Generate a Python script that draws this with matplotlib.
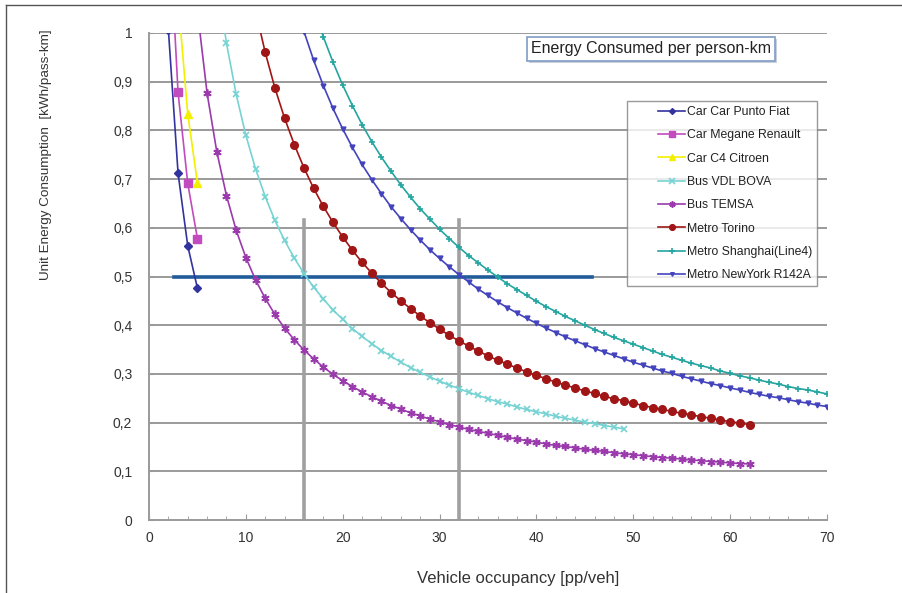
import matplotlib
matplotlib.use("Agg")
import matplotlib.pyplot as plt
from matplotlib.lines import Line2D
from matplotlib.patches import Rectangle
from matplotlib.legend_handler import HandlerLine2D

plt.rcParams['font.family'] = ['Liberation Sans', 'DejaVu Sans']

# ---------------- data ----------------
punto_x = [2, 3, 4, 5]
punto_y = [1.007, 0.712, 0.563, 0.476]

megane_x = [2, 3, 4, 5]
megane_y = [1.253, 0.878, 0.691, 0.578]

c4_x = [3, 4, 5]
c4_y = [1.070, 0.834, 0.692]

vdl_x = list(range(7, 50))
vdl_y = [1.114, 0.979, 0.874, 0.790, 0.721, 0.664, 0.615, 0.574, 0.538, 0.506,
         0.478, 0.454, 0.431, 0.412, 0.393, 0.377, 0.362, 0.348, 0.336, 0.324,
         0.313, 0.303, 0.294, 0.285, 0.277, 0.270, 0.262, 0.256, 0.249, 0.243,
         0.238, 0.232, 0.227, 0.222, 0.218, 0.213, 0.209, 0.205, 0.201, 0.198,
         0.194, 0.191, 0.187]

temsa_x = list(range(5, 63))
temsa_y = [1.045, 0.876, 0.756, 0.666, 0.595, 0.539, 0.493, 0.455, 0.422, 0.394,
           0.370, 0.349, 0.331, 0.314, 0.299, 0.286, 0.274, 0.263, 0.253, 0.244,
           0.235, 0.228, 0.220, 0.214, 0.207, 0.202, 0.196, 0.191, 0.186, 0.182,
           0.178, 0.174, 0.170, 0.166, 0.163, 0.160, 0.156, 0.153, 0.151, 0.148,
           0.145, 0.143, 0.141, 0.138, 0.136, 0.134, 0.132, 0.130, 0.128, 0.127,
           0.125, 0.123, 0.122, 0.120, 0.119, 0.117, 0.116, 0.115]

torino_x = list(range(11, 63))
torino_y = [1.046, 0.960, 0.887, 0.825, 0.771, 0.723, 0.681, 0.644, 0.611, 0.581,
            0.554, 0.529, 0.507, 0.486, 0.467, 0.450, 0.434, 0.419, 0.405, 0.392,
            0.379, 0.368, 0.357, 0.347, 0.337, 0.328, 0.320, 0.312, 0.304, 0.297,
            0.290, 0.283, 0.277, 0.271, 0.265, 0.260, 0.254, 0.249, 0.245, 0.240,
            0.235, 0.231, 0.227, 0.223, 0.219, 0.216, 0.212, 0.209, 0.205, 0.202,
            0.199, 0.196]

shanghai_x = list(range(17, 71))
shanghai_y = [1.050, 0.992, 0.940, 0.893, 0.851, 0.812, 0.777, 0.745, 0.716, 0.688,
              0.663, 0.639, 0.618, 0.597, 0.578, 0.560, 0.543, 0.528, 0.513, 0.499,
              0.485, 0.473, 0.461, 0.449, 0.438, 0.428, 0.418, 0.409, 0.400, 0.391,
              0.383, 0.375, 0.368, 0.361, 0.354, 0.347, 0.340, 0.334, 0.328, 0.322,
              0.317, 0.312, 0.306, 0.301, 0.296, 0.292, 0.287, 0.283, 0.279, 0.274,
              0.270, 0.267, 0.263, 0.259]

newyork_x = list(range(16, 71))
newyork_y = [1.003, 0.944, 0.892, 0.845, 0.803, 0.765, 0.730, 0.699, 0.670, 0.643,
             0.619, 0.596, 0.575, 0.555, 0.537, 0.520, 0.504, 0.489, 0.474, 0.461,
             0.448, 0.436, 0.425, 0.414, 0.404, 0.394, 0.385, 0.376, 0.368, 0.360,
             0.352, 0.345, 0.338, 0.331, 0.324, 0.318, 0.312, 0.306, 0.301, 0.295,
             0.290, 0.285, 0.280, 0.276, 0.271, 0.267, 0.262, 0.258, 0.254, 0.251,
             0.247, 0.243, 0.240, 0.236, 0.233]

ref_level = 0.5
ref_h_x = [2.6, 45.7]
ref_v_x = [16, 32]
ref_v_top = 0.615

x_ticks = [0, 10, 20, 30, 40, 50, 60, 70]
y_ticks = [0, 0.1, 0.2, 0.3, 0.4, 0.5, 0.6, 0.7, 0.8, 0.9, 1.0]
y_tick_labels = ['0', '0,1', '0,2', '0,3', '0,4', '0,5', '0,6', '0,7', '0,8', '0,9', '1']


class RightHandler(HandlerLine2D):
    """Draws the legend sample only in the right part of the handle box."""
    def create_artists(self, legend, orig_handle, xdescent, ydescent, width,
                       height, fontsize, trans):
        off = width * 0.5
        return super().create_artists(legend, orig_handle, xdescent - off, ydescent,
                                      width - off, height, fontsize, trans)


# ---------------- figure ----------------
W, H = 903, 593
fig = plt.figure(figsize=(W / 100, H / 100), dpi=100)
ax = fig.add_axes([149 / W, 1 - 520 / H, (827 - 149) / W, (520 - 33) / H])

ax.set_xlim(0, 70)
ax.set_ylim(0, 1)

grid_c = '#9a9a9a'
for yv in y_ticks[1:]:
    ax.axhline(yv, color=grid_c, lw=1.4, zorder=1)

# reference lines
for xv in ref_v_x:
    ax.plot([xv, xv], [0, ref_v_top], color='#a0a0a0', lw=2.6, zorder=2)
ax.plot(ref_h_x, [ref_level, ref_level], color='#1f5c99', lw=2.6, zorder=2)

lw = 1.2
series = [
    (punto_x, punto_y, 'Car Car Punto Fiat', '#33339f', dict(marker='D', ms=4)),
    (megane_x, megane_y, 'Car Megane Renault', '#c14bbf', dict(marker='s', ms=6)),
    (c4_x, c4_y, 'Car C4 Citroen', '#f2f000', dict(marker='^', ms=6)),
    (vdl_x, vdl_y, 'Bus VDL BOVA', '#77d3d3', dict(marker='x', ms=5, mew=1.2)),
    (temsa_x, temsa_y, 'Bus TEMSA', '#9a3aac', dict(marker=(6, 2, 0), ms=6, mew=1.2)),
    (torino_x, torino_y, 'Metro Torino', '#a01515', dict(marker='o', ms=5.5)),
    (shanghai_x, shanghai_y, 'Metro Shanghai(Line4)', '#24a5a0', dict(marker='+', ms=5, mew=1.2)),
    (newyork_x, newyork_y, 'Metro NewYork R142A', '#4343bd', dict(marker='v', ms=3.5)),
]
handles = []
for xs, ys, lab, col, mk in series:
    ax.plot(xs, ys, color=col, lw=lw, mfc=col, mec=col, zorder=3, clip_on=True, **mk)
    handles.append(Line2D([], [], color=col, lw=lw, mfc=col, mec=col, label=lab,
                          **{k: (v * 0.75 if k == 'ms' else v) for k, v in mk.items()}))

# axes styling
for s in ['top', 'right']:
    ax.spines[s].set_visible(False)
for s in ['left', 'bottom']:
    ax.spines[s].set_color(grid_c)
    ax.spines[s].set_linewidth(1.4)

ax.set_xticks(x_ticks)
ax.set_xticks(range(0, 71, 2), minor=True)
ax.set_yticks(y_ticks)
ax.set_yticklabels(y_tick_labels)
ax.tick_params(axis='x', which='both', direction='in', length=4, color=grid_c,
               labelsize=10, labelcolor='#333333', pad=8)
ax.tick_params(axis='x', which='minor', length=3)
ax.tick_params(axis='y', direction='in', length=3, color=grid_c,
               labelsize=10, labelcolor='#333333', pad=12)

fig.text(518 / W, 1 - 578 / H, 'Vehicle occupancy [pp/veh]', ha='center', va='center',
         fontsize=12, color='#333333')
fig.text(46 / W, 1 - 155 / H, 'Unit Energy Consumption  [kWh/pass-km]', ha='center',
         va='center', rotation=90, fontsize=9.7, color='#333333')

# title box (with a soft shadow)
bx0, bx1, by0, by1 = 527, 775, 37, 61
fig.add_artist(Rectangle(((bx0 + 2) / W, 1 - (by1 + 2) / H), (bx1 - bx0) / W,
                         (by1 - by0) / H, transform=fig.transFigure,
                         fc='#c8d0dc', ec='none', zorder=5))
fig.add_artist(Rectangle((bx0 / W, 1 - by1 / H), (bx1 - bx0) / W, (by1 - by0) / H,
                         transform=fig.transFigure, fc='white', ec='#7f9cc4',
                         lw=1.2, zorder=6))
fig.text((bx0 + bx1) / 2 / W, 1 - (by0 + by1) / 2 / H, 'Energy Consumed per person-km',
         ha='center', va='center', fontsize=11.5, color='#222222', zorder=7)

leg = ax.legend(handles=handles, loc='upper left',
                bbox_to_anchor=((627 - 149) / 678, (520 - 101) / 487),
                handler_map={Line2D: RightHandler()},
                fontsize=8.8, frameon=True, fancybox=False, edgecolor='#808080',
                handlelength=4.35, labelspacing=0.93, borderpad=0.4, handletextpad=0.15,
                borderaxespad=0)
leg.get_frame().set_linewidth(1.0)
for t in leg.get_texts():
    t.set_color('#222222')

# outer frame lines (top & left)
fig.add_artist(Line2D([6 / W, 1], [1 - 5 / H, 1 - 5 / H], color='#555555', lw=1.0))
fig.add_artist(Line2D([6 / W, 6 / W], [0, 1 - 5 / H], color='#555555', lw=1.0))

fig.savefig('out.png', dpi=100)
